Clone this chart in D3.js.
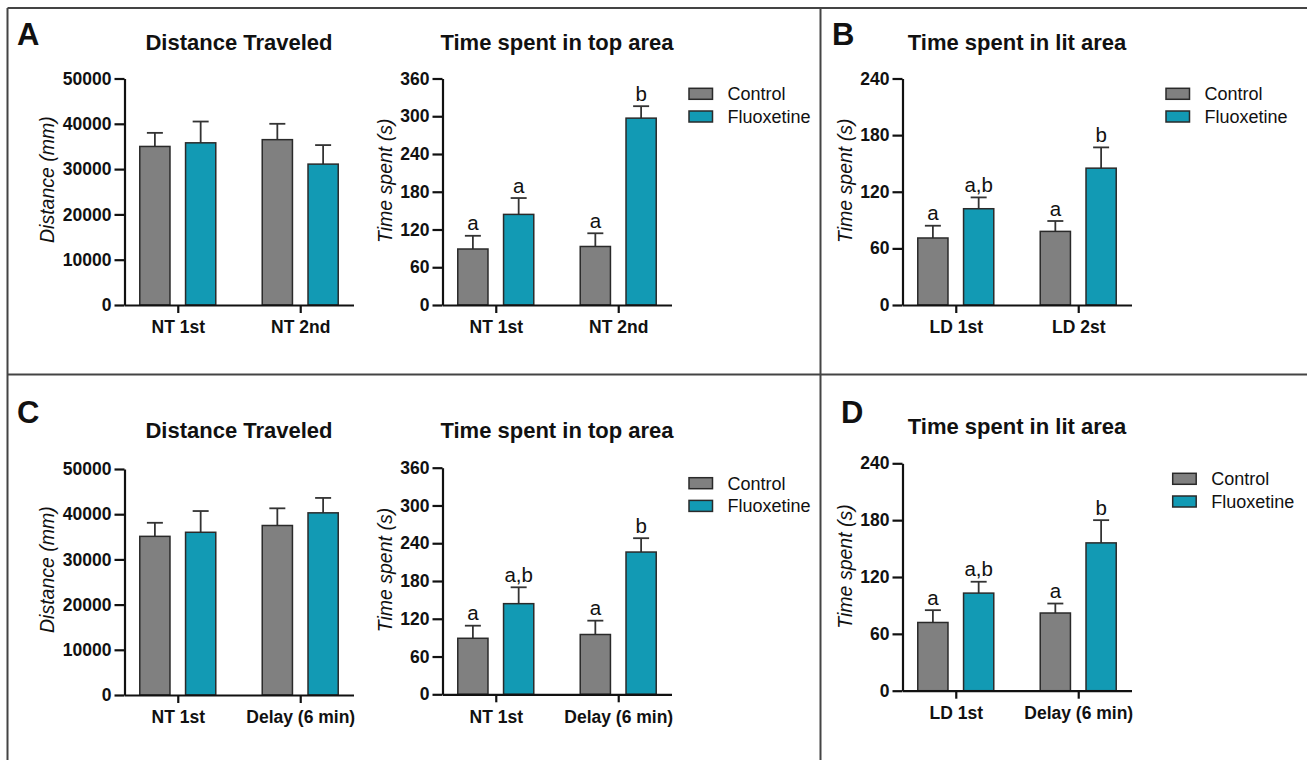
<!DOCTYPE html>
<html>
<head>
<meta charset="utf-8">
<script src="https://cdn.jsdelivr.net/npm/d3@7"></script>
<style>
  body { margin: 0; background: #fff; }
  svg text { font-family: "Liberation Sans", Arial, Helvetica, sans-serif; fill: #111; }
</style>
</head>
<body>
<div id="fig"></div>
<script>
// ---------- data ----------
const seriesNames = ['Control', 'Fluoxetine'];
const seriesColors = ['#808080', '#129ab4'];

const groupsNT2 = ['NT 1st', 'NT 2nd'];
const groupsNTDelay = ['NT 1st', 'Delay (6 min)'];
const groupsLD2 = ['LD 1st', 'LD 2st'];
const groupsLDDelay = ['LD 1st', 'Delay (6 min)'];

// panel A - distance
const distA_control = [35000, 36500];
const distA_controlErr = [3000, 3500];
const distA_fluox = [35800, 31100];
const distA_fluoxErr = [4700, 4200];

// panel A - time in top area
const topA_control = [89, 93];
const topA_controlErr = [21, 21];
const topA_fluox = [144, 297];
const topA_fluoxErr = [26, 19];
const topA_controlLetters = ['a', 'a'];
const topA_fluoxLetters = ['a', 'b'];

// panel B - time in lit area
const litB_control = [71, 78];
const litB_controlErr = [13, 11];
const litB_fluox = [102, 145];
const litB_fluoxErr = [12, 22];
const litB_controlLetters = ['a', 'a'];
const litB_fluoxLetters = ['a,b', 'b'];

// panel C - distance
const distC_control = [35100, 37500];
const distC_controlErr = [3000, 3800];
const distC_fluox = [36000, 40300];
const distC_fluoxErr = [4700, 3300];

// panel C - time in top area
const topC_control = [89, 95];
const topC_controlErr = [20, 22];
const topC_fluox = [144, 226];
const topC_fluoxErr = [26, 22];
const topC_controlLetters = ['a', 'a'];
const topC_fluoxLetters = ['a,b', 'b'];

// panel D - time in lit area
const litD_control = [72, 82];
const litD_controlErr = [13, 10];
const litD_fluox = [103, 156];
const litD_fluoxErr = [12, 24];
const litD_controlLetters = ['a', 'a'];
const litD_fluoxLetters = ['a,b', 'b'];

// ---------- canvas ----------
const W = 1307, H = 760;
const AXIS_W = 229;
const svg = d3.select('#fig').append('svg')
  .attr('width', W)
  .attr('height', H);

// frame lines
const frame = svg.append('g')
  .attr('stroke', '#444')
  .attr('stroke-width', 2)
  .attr('fill', 'none');
frame.append('line').attr('x1', 7.5).attr('y1', 8).attr('x2', W).attr('y2', 8);
frame.append('line').attr('x1', 7.5).attr('y1', 8).attr('x2', 7.5).attr('y2', H);
frame.append('line').attr('x1', 7.5).attr('y1', 374.5).attr('x2', W).attr('y2', 374.5);
frame.append('line').attr('x1', 820.5).attr('y1', 8).attr('x2', 820.5).attr('y2', H);

// panel letters
function panelLabel(txt, x, y) {
  svg.append('text')
    .attr('x', x).attr('y', y)
    .attr('font-size', 31)
    .attr('font-weight', 'bold')
    .text(txt);
}
panelLabel('A', 17, 45);
panelLabel('B', 832, 45);
panelLabel('C', 17, 423);
panelLabel('D', 841, 423);

// ---------- one bar chart ----------
function drawChart(cfg) {
  const g = svg.append('g');

  const y = d3.scaleLinear()
    .domain([0, cfg.yMax])
    .range([cfg.yBottom, cfg.yTop]);

  const x0 = d3.scalePoint()
    .domain(cfg.groups)
    .range([cfg.x, cfg.x + AXIS_W])
    .padding(0.435);

  const x1 = d3.scaleBand()
    .domain(seriesNames)
    .range([-38, 38])
    .paddingInner(0.34);

  // title
  g.append('text')
    .attr('x', cfg.x + AXIS_W / 2)
    .attr('y', cfg.titleY)
    .attr('text-anchor', 'middle')
    .attr('font-size', 22)
    .attr('font-weight', 'bold')
    .text(cfg.title);

  // y axis label
  g.append('text')
    .attr('transform', `translate(${cfg.x + cfg.ylabelDx}, ${cfg.yBottom - 62}) rotate(-90)`)
    .attr('dy', '0.35em')
    .attr('font-size', 19.5)
    .attr('font-style', 'italic')
    .text(cfg.ylabel);

  // rows of bar data
  const rows = [];
  cfg.groups.forEach((grp, i) => {
    rows.push({ group: grp, series: 'Control', value: cfg.control[i], err: cfg.controlErr[i], letter: cfg.controlLetters ? cfg.controlLetters[i] : null });
    rows.push({ group: grp, series: 'Fluoxetine', value: cfg.fluox[i], err: cfg.fluoxErr[i], letter: cfg.fluoxLetters ? cfg.fluoxLetters[i] : null });
  });
  const color = d3.scaleOrdinal().domain(seriesNames).range(seriesColors);
  const cx = d => x0(d.group) + x1(d.series) + x1.bandwidth() / 2;

  // error bars (upper only)
  g.selectAll('.err')
    .data(rows)
    .join('line')
    .attr('class', 'err')
    .attr('x1', cx).attr('x2', cx)
    .attr('y1', d => y(d.value))
    .attr('y2', d => y(d.value + d.err))
    .attr('stroke', '#333')
    .attr('stroke-width', 1.8);
  g.selectAll('.cap')
    .data(rows)
    .join('line')
    .attr('class', 'cap')
    .attr('x1', d => cx(d) - 8).attr('x2', d => cx(d) + 8)
    .attr('y1', d => y(d.value + d.err))
    .attr('y2', d => y(d.value + d.err))
    .attr('stroke', '#333')
    .attr('stroke-width', 1.8);

  // bars
  g.selectAll('.bar')
    .data(rows)
    .join('rect')
    .attr('class', 'bar')
    .attr('x', d => x0(d.group) + x1(d.series))
    .attr('width', x1.bandwidth())
    .attr('y', d => y(d.value))
    .attr('height', d => y(0) - y(d.value))
    .attr('fill', d => color(d.series))
    .attr('stroke', '#2a2a2a')
    .attr('stroke-width', 1.5);

  // significance letters
  g.selectAll('.sig')
    .data(rows.filter(d => d.letter))
    .join('text')
    .attr('class', 'sig')
    .attr('x', cx)
    .attr('y', d => y(d.value + d.err) - 5.5)
    .attr('text-anchor', 'middle')
    .attr('font-size', 20.5)
    .text(d => d.letter);

  // axes
  const yAxis = g.append('g')
    .attr('transform', `translate(${cfg.x},0)`)
    .call(d3.axisLeft(y)
      .tickValues(d3.range(0, cfg.yMax + 1, cfg.tickStep))
      .tickFormat(d3.format('d'))
      .tickSize(10)
      .tickPadding(3)
      .tickSizeOuter(0));
  const xAxis = g.append('g')
    .attr('transform', `translate(0,${cfg.yBottom})`)
    .call(d3.axisBottom(x0)
      .tickSize(8)
      .tickPadding(8)
      .tickSizeOuter(0));
  [yAxis, xAxis].forEach(a => {
    a.attr('font-family', null);
    a.select('.domain').attr('stroke', '#111').attr('stroke-width', 2.2);
    a.selectAll('.tick line').attr('stroke', '#111').attr('stroke-width', 2.2);
    a.selectAll('.tick text')
      .attr('fill', '#111')
      .attr('font-weight', 'bold');
  });
  yAxis.selectAll('.tick text').attr('font-size', 17.5);
  xAxis.selectAll('.tick text').attr('font-size', 17.5);

  // legend
  if (cfg.legend) {
    const lg = g.append('g');
    seriesNames.forEach((s, i) => {
      const ly = cfg.legend.y + i * 22.7;
      lg.append('rect')
        .attr('x', cfg.legend.x).attr('y', ly)
        .attr('width', 23.5).attr('height', 11)
        .attr('fill', seriesColors[i])
        .attr('stroke', '#2a2a2a')
        .attr('stroke-width', 1.5);
      lg.append('text')
        .attr('x', cfg.legend.x + 38.5)
        .attr('y', ly + 5.5)
        .attr('dy', '0.35em')
        .attr('font-size', 18)
        .text(s);
    });
  }
}

// ---------- panels ----------
drawChart({
  x: 124.5, yTop: 78.5, yBottom: 305, yMax: 50000, tickStep: 10000,
  groups: groupsNT2, control: distA_control, controlErr: distA_controlErr,
  fluox: distA_fluox, fluoxErr: distA_fluoxErr,
  title: 'Distance Traveled', titleY: 50, ylabel: 'Distance (mm)', ylabelDx: -77
});
drawChart({
  x: 442.5, yTop: 78.5, yBottom: 305, yMax: 360, tickStep: 60,
  groups: groupsNT2, control: topA_control, controlErr: topA_controlErr,
  fluox: topA_fluox, fluoxErr: topA_fluoxErr,
  controlLetters: topA_controlLetters, fluoxLetters: topA_fluoxLetters,
  title: 'Time spent in top area', titleY: 50, ylabel: 'Time spent (s)', ylabelDx: -57,
  legend: { x: 689, y: 88.3 }
});
drawChart({
  x: 902.5, yTop: 78.5, yBottom: 305, yMax: 240, tickStep: 60,
  groups: groupsLD2, control: litB_control, controlErr: litB_controlErr,
  fluox: litB_fluox, fluoxErr: litB_fluoxErr,
  controlLetters: litB_controlLetters, fluoxLetters: litB_fluoxLetters,
  title: 'Time spent in lit area', titleY: 50, ylabel: 'Time spent (s)', ylabelDx: -57,
  legend: { x: 1166, y: 88.3 }
});
drawChart({
  x: 124.5, yTop: 469, yBottom: 695, yMax: 50000, tickStep: 10000,
  groups: groupsNTDelay, control: distC_control, controlErr: distC_controlErr,
  fluox: distC_fluox, fluoxErr: distC_fluoxErr,
  title: 'Distance Traveled', titleY: 438, ylabel: 'Distance (mm)', ylabelDx: -77
});
drawChart({
  x: 442.5, yTop: 467.7, yBottom: 694.3, yMax: 360, tickStep: 60,
  groups: groupsNTDelay, control: topC_control, controlErr: topC_controlErr,
  fluox: topC_fluox, fluoxErr: topC_fluoxErr,
  controlLetters: topC_controlLetters, fluoxLetters: topC_fluoxLetters,
  title: 'Time spent in top area', titleY: 438, ylabel: 'Time spent (s)', ylabelDx: -57,
  legend: { x: 689, y: 477.7 }
});
drawChart({
  x: 902.5, yTop: 463.3, yBottom: 690.7, yMax: 240, tickStep: 60,
  groups: groupsLDDelay, control: litD_control, controlErr: litD_controlErr,
  fluox: litD_fluox, fluoxErr: litD_fluoxErr,
  controlLetters: litD_controlLetters, fluoxLetters: litD_fluoxLetters,
  title: 'Time spent in lit area', titleY: 434, ylabel: 'Time spent (s)', ylabelDx: -57,
  legend: { x: 1172.7, y: 473.3 }
});
</script>
</body>
</html>
